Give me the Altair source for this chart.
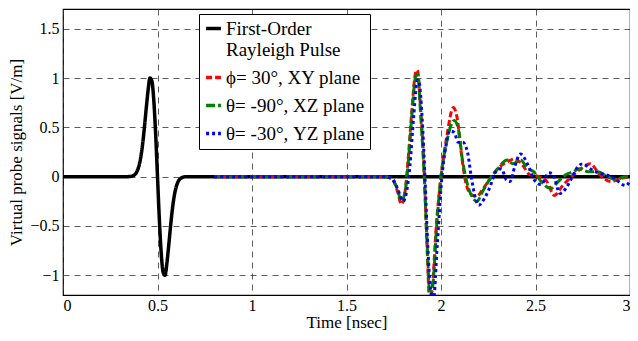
import altair as alt
import pandas as pd

# Black: first-order Rayleigh pulse
pulse_t = [0.0, 0.34, 0.35, 0.36, 0.37, 0.38, 0.39, 0.40, 0.41, 0.42, 0.43, 0.44, 0.45, 0.46, 0.47, 0.48, 0.49,
           0.50, 0.51, 0.52, 0.53, 0.54, 0.55, 0.56, 0.57, 0.58, 0.59, 0.60, 0.61, 0.62, 0.63, 0.64, 0.65, 0.66, 3.0]
pulse_v = [0.0, 0.0, 0.001, 0.003, 0.009, 0.021, 0.047, 0.097, 0.181, 0.310, 0.484, 0.685, 0.872, 1.0, 0.971, 0.785, 0.441,
           0.0, -0.441, -0.785, -0.971, -1.0, -0.872, -0.685, -0.484, -0.310, -0.181, -0.097, -0.047, -0.021, -0.009, -0.003, -0.001, 0.0, 0.0]

# Red: phi = 30 deg, XY plane
red_t = [0.8, 1.70, 1.74, 1.77, 1.79, 1.81, 1.825, 1.845, 1.865, 1.875, 1.89, 1.91, 1.925, 1.94, 1.955, 1.975, 2.0,
         2.03, 2.065, 2.085, 2.11, 2.13, 2.16, 2.19, 2.22, 2.26, 2.30, 2.35, 2.39, 2.43, 2.47, 2.52, 2.56, 2.60,
         2.64, 2.69, 2.74, 2.79, 2.84, 2.90, 2.95, 3.0]
red_v = [0.0, 0.0, -0.02, -0.15, -0.28, -0.15, 0.15, 0.65, 1.05, 1.08, 0.75, 0.1, -0.65, -1.25, -1.1, -0.5, 0.0,
         0.4, 0.70, 0.6, 0.2, -0.05, -0.18, -0.2, -0.13, -0.02, 0.08, 0.15, 0.18, 0.12, 0.02, 0.0, -0.05, -0.19,
         -0.1, 0.0, 0.08, 0.13, 0.02, -0.05, -0.02, 0.0]

# Green: theta = -90 deg, XZ plane
green_t = [0.8, 1.70, 1.74, 1.77, 1.79, 1.81, 1.825, 1.845, 1.867, 1.878, 1.89, 1.91, 1.927, 1.942, 1.957, 1.977, 2.0,
           2.03, 2.07, 2.09, 2.115, 2.14, 2.17, 2.19, 2.22, 2.26, 2.30, 2.35, 2.38, 2.42, 2.46, 2.49, 2.53, 2.58,
           2.62, 2.66, 2.70, 2.73, 2.78, 2.83, 2.88, 2.93, 2.97, 3.0]
green_v = [0.0, 0.0, -0.02, -0.13, -0.25, -0.15, 0.1, 0.6, 1.02, 1.03, 0.7, 0.05, -0.7, -1.22, -1.1, -0.5, 0.0,
           0.35, 0.57, 0.5, 0.15, -0.08, -0.22, -0.25, -0.15, -0.02, 0.08, 0.17, 0.13, 0.17, 0.08, 0.05, -0.05, -0.12,
           -0.05, 0.02, 0.05, 0.08, 0.05, 0.05, 0.0, -0.03, 0.0, 0.0]

# Blue: theta = -30 deg, YZ plane
blue_t = [0.8, 1.70, 1.74, 1.77, 1.80, 1.815, 1.835, 1.855, 1.875, 1.885, 1.90, 1.915, 1.93, 1.945, 1.96, 1.98, 2.005,
          2.025, 2.045, 2.07, 2.09, 2.115, 2.14, 2.16, 2.18, 2.20, 2.23, 2.26, 2.29, 2.32, 2.345, 2.365, 2.39, 2.42,
          2.46, 2.50, 2.53, 2.57, 2.59, 2.63, 2.66, 2.69, 2.72, 2.75, 2.79, 2.83, 2.87, 2.92, 2.96, 2.98, 3.0]
blue_v = [0.0, 0.0, -0.02, -0.12, -0.25, -0.18, 0.1, 0.6, 0.98, 0.95, 0.6, 0.0, -0.7, -1.15, -1.25, -0.7, 0.0,
          0.3, 0.46, 0.45, 0.35, 0.35, 0.25, 0.0, -0.2, -0.29, -0.22, -0.1, 0.05, 0.08, -0.03, -0.05, 0.1, 0.23,
          0.12, -0.05, -0.08, 0.04, 0.03, -0.17, -0.12, -0.02, 0.09, 0.13, 0.08, 0.04, 0.02, -0.02, -0.08, -0.09, -0.04]

series_names = ["First-Order Rayleigh Pulse", "ϕ= 30°, XY plane", "θ= -90°, XZ plane", "θ= -30°, YZ plane"]
series_colors = ["#000000", "#ff0000", "#008000", "#0000ff"]
series_dashes = [[1, 0], [6, 3], [9, 3], [3, 3]]
series_widths = [3.5, 3, 3, 3]

x_ticks = [0, 0.5, 1, 1.5, 2, 2.5, 3]
y_ticks = [-1, -0.5, 0, 0.5, 1, 1.5]

rows = []
for name, ts, vs in zip(series_names, [pulse_t, red_t, green_t, blue_t], [pulse_v, red_v, green_v, blue_v]):
    for t, v in zip(ts, vs):
        rows.append({"series": name, "t": t, "v": v})
df = pd.DataFrame(rows)

FONT = "Liberation Serif"

color_scale = alt.Scale(domain=series_names, range=series_colors)
dash_scale = alt.Scale(domain=series_names, range=series_dashes)

layers = []
for i, name in enumerate(series_names):
    layer = alt.Chart(df).transform_filter(
        alt.datum.series == name
    ).mark_line(clip=True, strokeWidth=series_widths[i], interpolate="monotone").encode(
        x=alt.X("t:Q", scale=alt.Scale(domain=[0, 3], nice=False),
                axis=alt.Axis(values=x_ticks, title="Time [nsec]", format="~g",
                              labelFont=FONT, titleFont=FONT)),
        y=alt.Y("v:Q", scale=alt.Scale(domain=[-1.2, 1.7], nice=False, zero=False),
                axis=alt.Axis(values=y_ticks, title="Virtual probe signals [V/m]", format="~g",
                              labelFont=FONT, titleFont=FONT)),
        color=alt.Color("series:N", scale=color_scale, title=None,
                        legend=alt.Legend(
                            orient="none", legendX=136, legendY=5,
                            labelFont=FONT,
                            labelExpr="datum.label == 'First-Order Rayleigh Pulse' ? ['First-Order', 'Rayleigh Pulse'] : datum.label",
                        )),
        strokeDash=alt.StrokeDash("series:N", scale=dash_scale, title=None, legend=None),
    )
    layers.append(layer)

chart = alt.layer(*layers).properties(
    width=567, height=286,
    autosize=alt.AutoSizeParams(type="none"),
    padding={"left": 55, "top": 1, "right": 0, "bottom": 35},
).configure(
    font=FONT
).configure_view(
    stroke="black", strokeWidth=1.2
).configure_axis(
    grid=True, gridColor="#333333", gridDash=[6, 5], gridWidth=0.8,
    ticks=False, domain=False,
    labelFont=FONT, labelFontSize=16, labelColor="black",
    titleFont=FONT, titleFontSize=17, titleFontWeight="normal", titleColor="black",
    labelPadding=4,
).configure_axisX(
    labelPadding=2, titlePadding=1,
).configure_axisY(
    titlePadding=4,
).configure_legend(
    labelFont=FONT, labelFontSize=19, labelColor="black",
    fillColor="white", strokeColor="black", padding=5,
    symbolType="stroke", symbolSize=220, symbolStrokeWidth=3.5,
    rowPadding=8, labelOffset=3, labelLimit=300,
)

chart.save("out.html", embed_options={"renderer": "svg", "actions": False})
